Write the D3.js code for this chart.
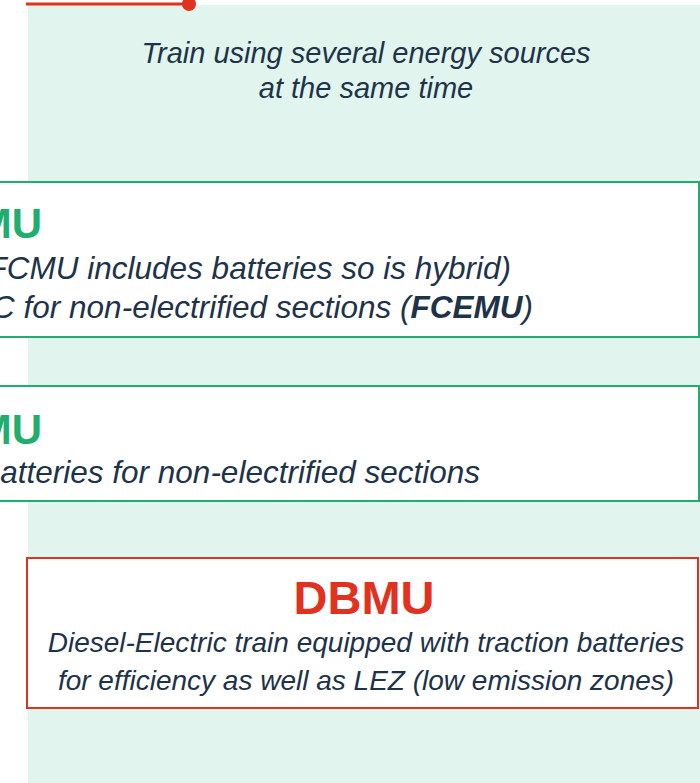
<!DOCTYPE html>
<html>
<head>
<meta charset="utf-8">
<script src="https://cdn.jsdelivr.net/npm/d3@7"></script>
<style>
  html, body { margin: 0; padding: 0; background: #fff; }
  svg { display: block; }
  text { font-family: "Liberation Sans", Arial, sans-serif; }
</style>
</head>
<body>
<div id="graph"></div>
<script>
var width = 700,
    height = 783;

// diagram content
const titleLines = ["Train using several energy sources", "at the same time"];
const boxNames = ["HEMU", "BEMU", "DBMU"];
const boxKinds = ["green", "green", "red"];
const boxLines = [
    [["Hydrogen fuel cell train (FCMU includes batteries so is hybrid)"],
     ["EMU with FC for non-electrified sections (", "FCEMU", ")"]],
    [["EMU with traction batteries for non-electrified sections"]],
    [["Diesel-Electric train equipped with traction batteries"],
     ["for efficiency as well as LEZ (low emission zones)"]]
];

const colors = { green: "#1fae6e", red: "#e0321f", text: "#1e3349", panel: "#e2f4ee" };

let svg = d3.select("#graph")
    .append("svg")
    .attr("width", width)
    .attr("height", height);

// background panel + connector line
svg.append("rect")
    .attr("x", 28).attr("y", 5)
    .attr("width", width - 28).attr("height", height - 5)
    .attr("fill", colors.panel);

svg.append("line")
    .attr("x1", 26).attr("x2", 189)
    .attr("y1", 4).attr("y2", 4)
    .attr("stroke", colors.red).attr("stroke-width", 3);
svg.append("circle")
    .attr("cx", 189).attr("cy", 4).attr("r", 7)
    .attr("fill", colors.red);

svg.selectAll(".title")
    .data(titleLines)
    .enter()
    .append("text")
    .attr("class", "title")
    .attr("x", 366)
    .attr("y", (d, i) => 63 + i * 35)
    .attr("text-anchor", "middle")
    .attr("font-size", 29)
    .attr("font-style", "italic")
    .attr("fill", colors.text)
    .text(d => d);

// box layout
const boxes = [
    { x: -10, y: 182, w: 709, h: 155, anchor: "end", hx: 42, hy: 238, lx: [511, 533], ly: [279, 318], hsize: 42, bsize: 31.5 },
    { x: -10, y: 386, w: 709, h: 115, anchor: "end", hx: 42, hy: 444, lx: [480], ly: [483], hsize: 42, bsize: 31.5 },
    { x: 27, y: 558, w: 671, h: 150, anchor: "middle", hx: 364, hy: 614, lx: [366, 366], ly: [652, 690], hsize: 47, bsize: 28 }
];

let g = svg.selectAll(".box")
    .data(boxes)
    .enter()
    .append("g")
    .attr("class", "box");

g.append("rect")
    .attr("x", d => d.x).attr("y", d => d.y)
    .attr("width", d => d.w).attr("height", d => d.h)
    .attr("fill", "#fff")
    .attr("stroke", (d, i) => colors[boxKinds[i]])
    .attr("stroke-width", 2);

g.append("text")
    .attr("x", d => d.hx).attr("y", d => d.hy)
    .attr("text-anchor", d => d.anchor)
    .attr("font-size", d => d.hsize)
    .attr("font-weight", "bold")
    .attr("fill", (d, i) => colors[boxKinds[i]])
    .text((d, i) => boxNames[i]);

g.each(function(d, i) {
    let sel = d3.select(this);
    boxLines[i].forEach(function(parts, j) {
        let t = sel.append("text")
            .attr("x", d.lx[j]).attr("y", d.ly[j])
            .attr("text-anchor", d.anchor)
            .attr("font-size", d.bsize)
            .attr("font-style", "italic")
            .attr("fill", colors.text);
        parts.forEach(function(p, k) {
            t.append("tspan")
                .attr("font-weight", k == 1 ? "bold" : null)
                .text(p);
        });
    });
});
</script>
</body>
</html>
